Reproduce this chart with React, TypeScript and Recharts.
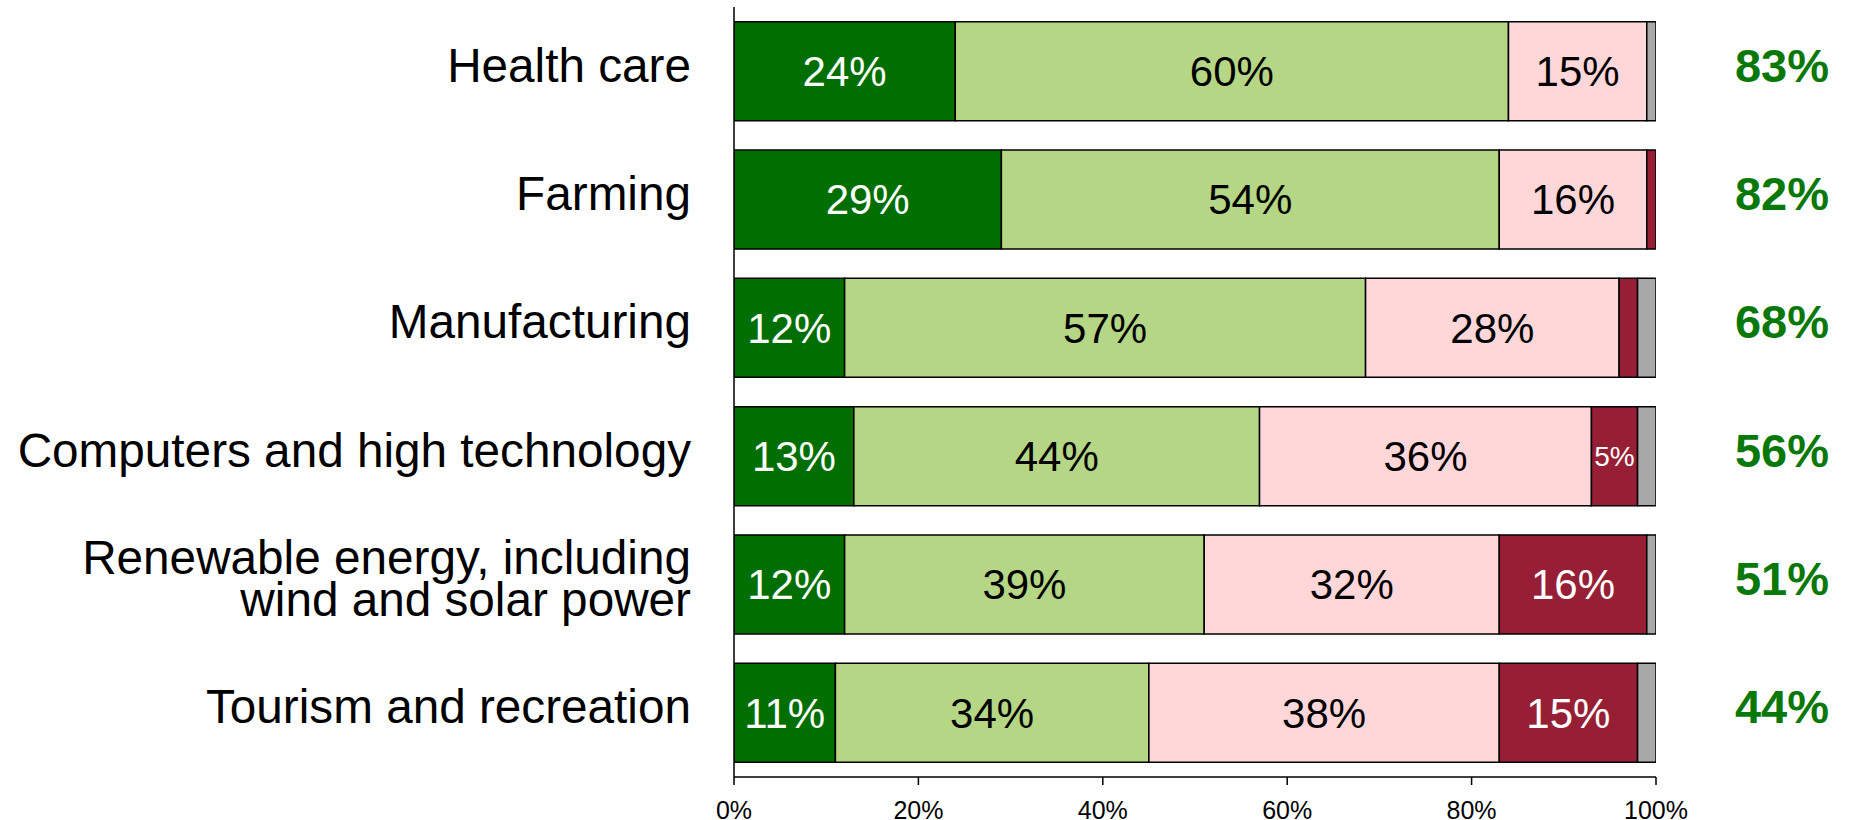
import React from 'react';
import { BarChart, Bar, XAxis, YAxis, LabelList } from 'recharts';

// Sectors, top to bottom
const categories = [
    'Health care',
    'Farming',
    'Manufacturing',
    'Computers and high technology',
    'Renewable energy, including\nwind and solar power',
    'Tourism and recreation',
];

// Share of answers per sector (%), stacked left to right
const veryPositive = [24, 29, 12, 13, 12, 11];
const somewhatPositive = [60, 54, 56.5, 44, 39, 34];
const somewhatNegative = [15, 16, 27.5, 36, 32, 38];
const veryNegative = [0, 1, 2, 5, 16, 15];
const noAnswer = [1, 0, 2, 2, 1, 2];

// Net positive shown on the right
const netPositive = [83, 82, 68, 56, 51, 44];

const xTicks = [0, 20, 40, 60, 80, 100];

const FONT = '"Liberation Sans", Arial, Helvetica, sans-serif';

const series = [
    { key: 'veryPositive', fill: '#006e00', text: '#ffffff' },
    { key: 'somewhatPositive', fill: '#b5d685', text: '#000000' },
    { key: 'somewhatNegative', fill: '#ffd7d9', text: '#000000' },
    { key: 'veryNegative', fill: '#961f36', text: '#ffffff' },
    { key: 'noAnswer', fill: '#a8a8a8', text: null },
];

const data = categories.map((name, i) => ({
    name,
    veryPositive: veryPositive[i],
    somewhatPositive: somewhatPositive[i],
    somewhatNegative: somewhatNegative[i],
    veryNegative: veryNegative[i],
    noAnswer: noAnswer[i],
}));

const CategoryTick = (props: any) => {
    const { x, y, payload } = props;
    const lines = String(payload.value).split('\n');
    return (
        <text x={x} y={y} textAnchor="end" fontSize={47.7} fontFamily={FONT} fill="#000">
            {lines.map((line, i) => (
                <tspan key={i} x={x} y={y + 10.5 + (i - (lines.length - 1) / 2) * 42}>
                    {line}
                </tspan>
            ))}
        </text>
    );
};

const NetTick = (props: any) => {
    const { x, y, payload } = props;
    const idx = categories.indexOf(payload.value);
    return (
        <text x={x + 126} y={y + 10.5} textAnchor="middle" fontSize={47} fontWeight="bold" fontFamily={FONT} fill="#087808">
            {netPositive[idx]}%
        </text>
    );
};

const segmentLabel = (color: string) => (props: any) => {
    const { x, y, width, height, value } = props;
    if (value == null || value < 3) return null;
    const small = value < 8;
    return (
        <text
            x={x + width / 2}
            y={y + height / 2}
            dy={small ? 10 : 15}
            textAnchor="middle"
            fontSize={small ? 28 : 42}
            fontFamily={FONT}
            fill={color}
        >
            {Math.round(value)}%
        </text>
    );
};

const App: React.FC = () => {
    return (
        <div style={{ position: 'absolute', left: 0, top: 0, width: 1849, height: 820, background: '#fff' }}>
            <BarChart
                width={1849}
                height={820}
                data={data}
                layout="vertical"
                margin={{ top: 7, right: 0, bottom: 0, left: 0 }}
                barCategoryGap="11.4%"
            >
                <XAxis
                    type="number"
                    domain={[0, 100]}
                    ticks={xTicks}
                    tickFormatter={(v: number) => `${v}%`}
                    height={43}
                    stroke="#000"
                    strokeWidth={1.5}
                    tickSize={8}
                    tickMargin={16}
                    tick={{ fontSize: 25, fontFamily: FONT, fill: '#000' }}
                    allowDataOverflow
                />
                <YAxis
                    type="category"
                    dataKey="name"
                    width={734}
                    stroke="#000"
                    strokeWidth={1.5}
                    tickLine={false}
                    tickSize={0}
                    tickMargin={43}
                    tick={<CategoryTick />}
                    interval={0}
                />
                <YAxis
                    yAxisId="net"
                    orientation="right"
                    type="category"
                    dataKey="name"
                    width={193}
                    axisLine={false}
                    tickLine={false}
                    tickSize={0}
                    tickMargin={0}
                    tick={<NetTick />}
                    interval={0}
                />
                {series.map((s) => (
                    <Bar
                        key={s.key}
                        dataKey={s.key}
                        stackId="a"
                        fill={s.fill}
                        stroke="#000"
                        strokeWidth={1.5}
                        isAnimationActive={false}
                    >
                        {s.text && <LabelList dataKey={s.key} content={segmentLabel(s.text)} />}
                    </Bar>
                ))}
            </BarChart>
        </div>
    );
};

export default App;
